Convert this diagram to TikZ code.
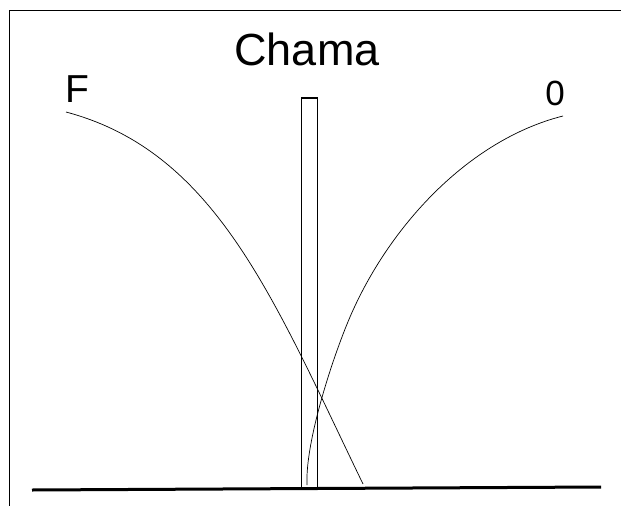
\documentclass[tikz,border=0pt]{standalone}
\usepackage{fontspec}
\setmainfont{Liberation Sans}

\begin{document}
\begin{tikzpicture}[x=1pt,y=-1pt,line width=0.9pt,
    label/.style={inner sep=0pt,anchor=base west},
    curve/.style={line width=0.7pt}]
  \useasboundingbox (0,0) rectangle (621,506);
  % frame
  \draw (9,10) -- (621,10); \draw (9,10) -- (9,506);
  % ground and wick
  \draw[line width=3pt] (32,490) -- (601,487);
  \draw[line width=1.1pt] (301.5,98) rectangle (317.5,489);
  % curves
  \draw[curve] (66,112) .. controls (216,152) and (273,298) .. (363,484);
  \draw[curve] (563,116) .. controls (468,140) and (388.7,227) .. (350,317)
                         .. controls (332.8,357) and (305,442) .. (307,485);
  % labels
  \node[inner sep=0pt,anchor=base,font=\fontsize{45}{54}\selectfont] (chama) at (307,65) {Chama};
  \node[label,font=\fontsize{39}{46}\selectfont] (fuel) at (65,102) {F};
  \node[label,font=\fontsize{35}{42}\selectfont] (zero) at (545,105) {0};
\end{tikzpicture}
\end{document}
